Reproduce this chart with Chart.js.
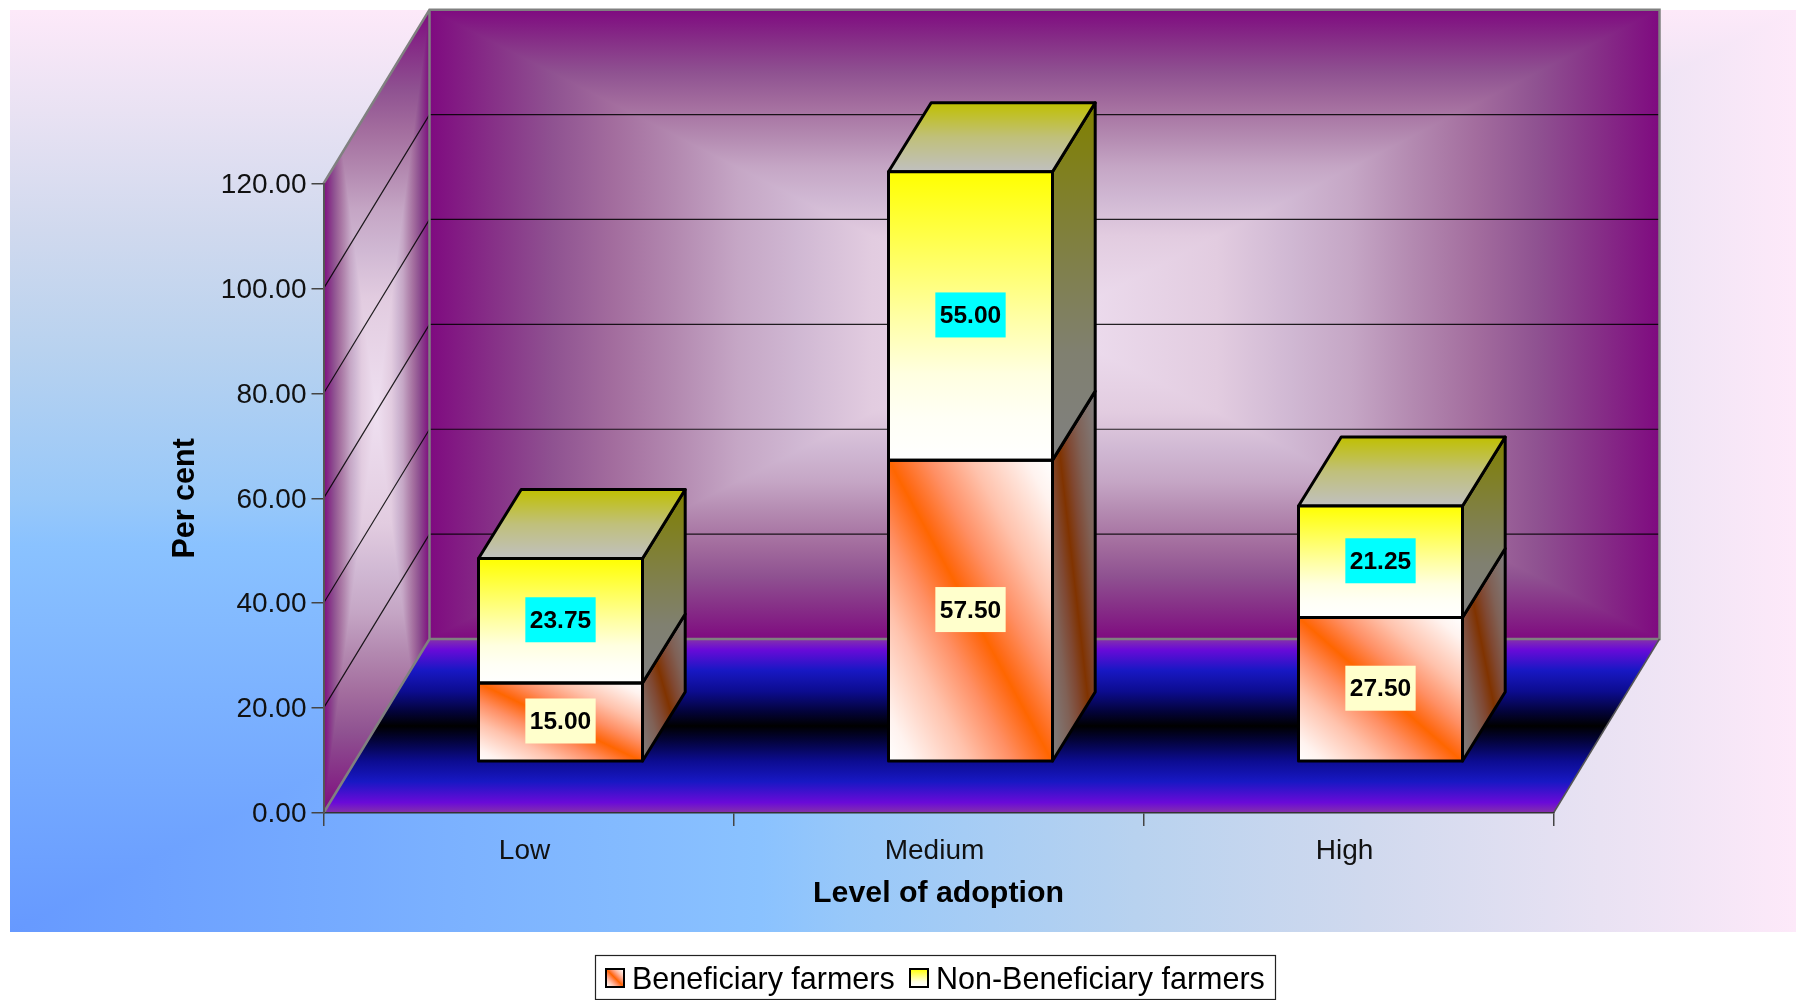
<!DOCTYPE html>
<html lang="en">

<head>
    <meta charset="UTF-8">
    <title>Level of adoption</title>
    <style>
        html, body { margin: 0; background: #fff; }
        canvas { display: block; }
    </style>
</head>

<body>
    <canvas id="myChart" width="1796" height="1000"></canvas>

    <script src="https://cdn.jsdelivr.net/npm/chart.js"></script>
    <script>
        var categories = ["Low", "Medium", "High"];
        var beneficiary = [15.00, 57.50, 27.50];
        var nonBeneficiary = [23.75, 55.00, 21.25];
        var seriesNames = ["Beneficiary farmers", "Non-Beneficiary farmers"];
        var yMax = 120;
        var yStep = 20;

        // depth of the box the bars stand in, and of each bar
        var boxDepth = { x: 106, y: 174 };
        var barDepth = { x: 42.7, y: 69 };
        var barShift = { x: 32, y: -51.3 };
        var barPercentage = 0.4;
        var edge = 3;

        Chart.defaults.font.family = "'Liberation Sans', Arial, sans-serif";
        Chart.defaults.color = "#111";

        function stops(gradient, list) {
            list.forEach(function (s) { gradient.addColorStop(s[0], s[1]); });
            return gradient;
        }

        var orangeStops = [
            [0, "#ffffff"], [0.08, "#fff3ef"], [0.25, "#ffc2ac"], [0.38, "#ff8f64"], [0.47, "#ff6d1c"], [0.5, "#ff6600"],
            [0.53, "#ff6d1c"], [0.62, "#ff8f64"], [0.75, "#ffc2ac"], [0.92, "#fff3ef"], [1, "#ffffff"]
        ];
        var orangeSideStops = [
            [0, "#808080"], [0.25, "#806156"], [0.38, "#804832"], [0.5, "#803300"],
            [0.62, "#804832"], [0.75, "#806156"], [1, "#808080"]
        ];
        var yellowStops = [[0, "#ffff00"], [0.5, "#ffffa3"], [0.7, "#ffffe0"], [0.85, "#fffff5"], [1, "#ffffff"]];
        var yellowSideStops = [[0, "#808000"], [0.5, "#808052"], [0.7, "#808070"], [1, "#808080"]];
        var yellowTopStops = [[0, "#c0c000"], [0.5, "#c0c07a"], [1, "#c0c0c0"]];
        var wallStops = [
            [0, "#7f0a80"], [0.1, "#862f87"], [0.2, "#8f5291"], [0.3, "#a36d9e"], [0.4, "#b389b0"],
            [0.5, "#c5a6c5"], [0.6, "#d0b8d3"], [0.72, "#e2cce0"], [1, "#efe0f1"]
        ];
        var floorStops = [
            [0, "#8533a8"], [0.06, "#6a0ad8"], [0.18, "#1818c4"], [0.3, "#0c0c90"], [0.42, "#030338"], [0.5, "#000000"],
            [0.58, "#030338"], [0.7, "#0c0c90"], [0.82, "#1818c4"], [0.94, "#6a0ad8"], [1, "#8533a8"]
        ];
        var backgroundStops = [
            [0, "#6699ff"], [0.42, "#8ac2ff"], [0.47, "#98c8f9"], [0.63, "#b8d2ef"],
            [0.76, "#d0d9ee"], [0.89, "#e9e2f3"], [1, "#fde9f9"]
        ];

        // white corners with an orange band along the top-left to bottom-right diagonal
        function diagonalGradient(ctx, x, y, w, h) {
            var len = Math.sqrt(w * w + h * h);
            var nx = h / len, ny = -w / len, p = w * h / len;
            var cx = x + w / 2, cy = y + h / 2;
            return stops(ctx.createLinearGradient(cx - nx * p, cy - ny * p, cx + nx * p, cy + ny * p), orangeStops);
        }

        function barBox(c, values, base) {
            var chart = c.chart;
            var width = chart.chartArea.width / categories.length * barPercentage;
            var bottom = base ? base[c.dataIndex] : 0;
            var top = chart.scales.y.getPixelForValue(bottom + values[c.dataIndex]);
            var left = chart.scales.x.getPixelForValue(c.dataIndex) - width / 2;
            return { x: left, y: top, w: width, h: chart.scales.y.getPixelForValue(bottom) - top };
        }

        function beneficiaryFill(c) {
            if (!c.chart.chartArea) return "#ff6600";
            var b = barBox(c, beneficiary);
            return diagonalGradient(c.chart.ctx, b.x, b.y, b.w, b.h);
        }

        function nonBeneficiaryFill(c) {
            if (!c.chart.chartArea) return "#ffff00";
            var b = barBox(c, nonBeneficiary, beneficiary);
            return stops(c.chart.ctx.createLinearGradient(0, b.y, 0, b.y + b.h), yellowStops);
        }

        function path(ctx, points) {
            ctx.beginPath();
            points.forEach(function (p, i) {
                if (i === 0) ctx.moveTo(p[0], p[1]); else ctx.lineTo(p[0], p[1]);
            });
            ctx.closePath();
        }

        // rectangular gradient running from the edges to the centre, in a unit square
        function rectangularFill(ctx, list) {
            var half = list.map(function (s) { return [s[0] / 2, s[1]]; });
            var full = half.concat(half.slice().reverse().map(function (s) { return [1 - s[0], s[1]]; }));
            ctx.fillStyle = stops(ctx.createLinearGradient(0, 0, 0, 1), full);
            ctx.fillRect(0, 0, 1, 1);
            ctx.save();
            ctx.beginPath();
            ctx.moveTo(0, 0); ctx.lineTo(0.5, 0.5); ctx.lineTo(0, 1); ctx.closePath();
            ctx.moveTo(1, 0); ctx.lineTo(0.5, 0.5); ctx.lineTo(1, 1); ctx.closePath();
            ctx.clip();
            ctx.fillStyle = stops(ctx.createLinearGradient(0, 0, 1, 0), full);
            ctx.fillRect(0, 0, 1, 1);
            ctx.restore();
        }

        // chart background: gradient spreading out of the bottom-left corner
        function drawBackground(ctx, x, y, w, h) {
            ctx.save();
            ctx.transform(w, 0, 0, -h, x, y + h);
            ctx.fillStyle = stops(ctx.createLinearGradient(0, 0, 0, 1), backgroundStops);
            ctx.fillRect(0, 0, 1, 1);
            ctx.beginPath();
            ctx.moveTo(0, 0); ctx.lineTo(1, 1); ctx.lineTo(1, 0); ctx.closePath();
            ctx.clip();
            ctx.fillStyle = stops(ctx.createLinearGradient(0, 0, 1, 0), backgroundStops);
            ctx.fillRect(0, 0, 1, 1);
            ctx.restore();
        }

        function drawBox(chart) {
            var ctx = chart.ctx, a = chart.chartArea, y = chart.scales.y;
            var dx = boxDepth.x, dy = boxDepth.y;

            // back wall
            ctx.save();
            ctx.transform(a.width, 0, 0, a.height, a.left + dx, a.top - dy);
            rectangularFill(ctx, wallStops);
            ctx.restore();

            // side wall, gradient spread over its bounding box
            ctx.save();
            path(ctx, [[a.left, a.top], [a.left + dx, a.top - dy], [a.left + dx, a.bottom - dy], [a.left, a.bottom]]);
            ctx.clip();
            ctx.transform(dx, 0, 0, a.height + dy, a.left, a.top - dy);
            rectangularFill(ctx, wallStops);
            ctx.restore();

            // floor
            path(ctx, [[a.left, a.bottom], [a.left + dx, a.bottom - dy], [a.right + dx, a.bottom - dy], [a.right, a.bottom]]);
            ctx.fillStyle = stops(ctx.createLinearGradient(0, a.bottom - dy, 0, a.bottom), floorStops);
            ctx.fill();

            // grid lines on both walls
            ctx.strokeStyle = "rgba(0,0,0,0.85)";
            ctx.lineWidth = 1.2;
            y.ticks.forEach(function (t) {
                if (t.value === 0 || t.value === yMax) return;
                var py = y.getPixelForValue(t.value);
                ctx.beginPath();
                ctx.moveTo(a.left, py);
                ctx.lineTo(a.left + dx, py - dy);
                ctx.lineTo(a.right + dx, py - dy);
                ctx.stroke();
            });

            // thin edges of the box
            ctx.strokeStyle = "#808080";
            ctx.lineWidth = 2.5;
            ctx.beginPath();
            ctx.moveTo(a.left, a.top);
            ctx.lineTo(a.left + dx, a.top - dy);
            ctx.lineTo(a.right + dx, a.top - dy);
            ctx.lineTo(a.right + dx, a.bottom - dy);
            ctx.lineTo(a.left + dx, a.bottom - dy);
            ctx.lineTo(a.left, a.bottom);
            ctx.moveTo(a.left + dx, a.top - dy);
            ctx.lineTo(a.left + dx, a.bottom - dy);
            ctx.stroke();
            ctx.strokeStyle = "#555";
            ctx.lineWidth = 1.5;
            ctx.beginPath();
            ctx.moveTo(a.right, a.bottom);
            ctx.lineTo(a.right + dx, a.bottom - dy);
            ctx.stroke();
        }

        function strokeFace(ctx, points) {
            path(ctx, points);
            ctx.strokeStyle = "#000";
            ctx.lineWidth = edge;
            ctx.lineJoin = "round";
            ctx.stroke();
        }

        // side face of a bar, gradient spread over the bounding box of the face
        function sideFill(ctx, r, top, base, list, diagonal) {
            var dx = barDepth.x, dy = barDepth.y;
            ctx.save();
            path(ctx, [[r, top], [r + dx, top - dy], [r + dx, base - dy], [r, base]]);
            ctx.clip();
            ctx.transform(dx, 0, 0, base - top + dy, r, top - dy);
            var g = diagonal ? ctx.createLinearGradient(0, 1, 1, 0) : ctx.createLinearGradient(0, 0, 0, 1);
            ctx.fillStyle = stops(g, list);
            ctx.fillRect(0, 0, 1, 1);
            ctx.restore();
        }

        function drawBarDepth(chart) {
            var ctx = chart.ctx, dx = barDepth.x, dy = barDepth.y;
            chart.data.datasets.forEach(function (set, d) {
                chart.getDatasetMeta(d).data.forEach(function (el) {
                    var l = el.x - el.width / 2;
                    var r = el.x + el.width / 2;
                    sideFill(ctx, r, el.y, el.base, d === 0 ? orangeSideStops : yellowSideStops, d === 0);
                    strokeFace(ctx, [[r, el.y], [r + dx, el.y - dy], [r + dx, el.base - dy], [r, el.base]]);
                    if (d === 1) {
                        path(ctx, [[l, el.y], [l + dx, el.y - dy], [r + dx, el.y - dy], [r, el.y]]);
                        ctx.fillStyle = stops(ctx.createLinearGradient(0, el.y - dy, 0, el.y), yellowTopStops);
                        ctx.fill();
                        strokeFace(ctx, [[l, el.y], [l + dx, el.y - dy], [r + dx, el.y - dy], [r, el.y]]);
                    }
                });
            });
        }

        // black outline of the front faces
        function drawBarOutlines(chart) {
            var ctx = chart.ctx;
            chart.data.datasets.forEach(function (set, d) {
                chart.getDatasetMeta(d).data.forEach(function (el) {
                    var l = el.x - el.width / 2;
                    var r = el.x + el.width / 2;
                    strokeFace(ctx, [[l, el.y], [r, el.y], [r, el.base], [l, el.base]]);
                });
            });
        }

        function drawValueLabels(chart) {
            var ctx = chart.ctx;
            ctx.save();
            ctx.font = "bold 24.5px 'Liberation Sans', Arial, sans-serif";
            ctx.textAlign = "center";
            ctx.textBaseline = "middle";
            chart.data.datasets.forEach(function (set, d) {
                chart.getDatasetMeta(d).data.forEach(function (el, i) {
                    var text = set.data[i].toFixed(2);
                    var w = ctx.measureText(text).width + 9;
                    var cx = el.x + barShift.x;
                    var cy = (el.y + el.base) / 2 + barShift.y - 1;
                    ctx.fillStyle = d === 0 ? "#ffffcc" : "#00ffff";
                    ctx.fillRect(cx - w / 2, cy - 22.5, w, 45);
                    ctx.fillStyle = "#000";
                    ctx.fillText(text, cx, cy + 1.5);
                });
            });
            ctx.restore();
        }

        function drawLegend(chart) {
            var ctx = chart.ctx;
            ctx.save();
            ctx.strokeStyle = "#222";
            ctx.lineWidth = 1.2;
            ctx.strokeRect(595.5, 955.5, 680, 44);
            ctx.font = "30.5px 'Liberation Sans', Arial, sans-serif";
            ctx.textBaseline = "middle";
            ctx.textAlign = "left";

            ctx.fillStyle = diagonalGradient(ctx, 606, 969, 18, 18);
            ctx.fillRect(606, 969, 18, 18);
            ctx.fillStyle = stops(ctx.createLinearGradient(0, 969, 0, 987), yellowStops);
            ctx.fillRect(910, 969, 18, 18);
            ctx.strokeStyle = "#000";
            ctx.lineWidth = 2;
            ctx.strokeRect(606, 969, 18, 18);
            ctx.strokeRect(910, 969, 18, 18);

            ctx.fillStyle = "#000";
            ctx.fillText(seriesNames[0], 632, 981);
            ctx.fillText(seriesNames[1], 936, 981);
            ctx.restore();
        }

        var boxPlugin = {
            id: "box3d",
            beforeDraw: function (chart) {
                drawBackground(chart.ctx, 10, 10, 1786, 922);
                drawBox(chart);
            },
            beforeDatasetsDraw: function (chart) {
                chart.ctx.save();
                chart.ctx.translate(barShift.x, barShift.y);
                drawBarDepth(chart);
            },
            afterDatasetsDraw: function (chart) {
                drawBarOutlines(chart);
                chart.ctx.restore();
                drawValueLabels(chart);
                drawLegend(chart);
            }
        };

        new Chart(document.getElementById("myChart").getContext("2d"), {
            type: "bar",
            data: {
                labels: categories,
                datasets: [
                    {
                        label: seriesNames[0],
                        data: beneficiary,
                        backgroundColor: beneficiaryFill,
                        borderWidth: 0,
                        clip: false
                    },
                    {
                        label: seriesNames[1],
                        data: nonBeneficiary,
                        backgroundColor: nonBeneficiaryFill,
                        borderWidth: 0,
                        clip: false
                    }
                ]
            },
            options: {
                responsive: false,
                animation: false,
                barPercentage: barPercentage,
                categoryPercentage: 1,
                layout: { padding: { top: 183.7, right: 242.5, left: 0, bottom: 0 } },
                plugins: { legend: { display: false }, tooltip: { enabled: false } },
                scales: {
                    x: {
                        stacked: true,
                        afterFit: function (scale) { scale.height = 187; },
                        grid: { drawOnChartArea: false, color: "#444", tickLength: 13, lineWidth: 1.5 },
                        border: { color: "#333", width: 1.5 },
                        ticks: { font: { size: 28 }, padding: 8, labelOffset: -4, maxRotation: 0 },
                        title: {
                            display: true,
                            text: "Level of adoption",
                            font: { size: 30.3, weight: "bold" },
                            color: "#000",
                            padding: { top: 0, bottom: 88 }
                        }
                    },
                    y: {
                        stacked: true,
                        min: 0,
                        max: yMax,
                        afterFit: function (scale) { scale.width = 323.5; },
                        grid: { drawOnChartArea: false, color: "#444", tickLength: 12, lineWidth: 1.5 },
                        border: { color: "#555", width: 2 },
                        ticks: {
                            stepSize: yStep,
                            font: { size: 28 },
                            padding: 5,
                            labelOffset: 1.5,
                            callback: function (value) { return value.toFixed(2); }
                        },
                        title: {
                            display: true,
                            text: "Per cent",
                            font: { size: 30.5, weight: "bold" },
                            color: "#000",
                            padding: { top: 167, bottom: 0 }
                        }
                    }
                }
            },
            plugins: [boxPlugin]
        });
    </script>
</body>

</html>
